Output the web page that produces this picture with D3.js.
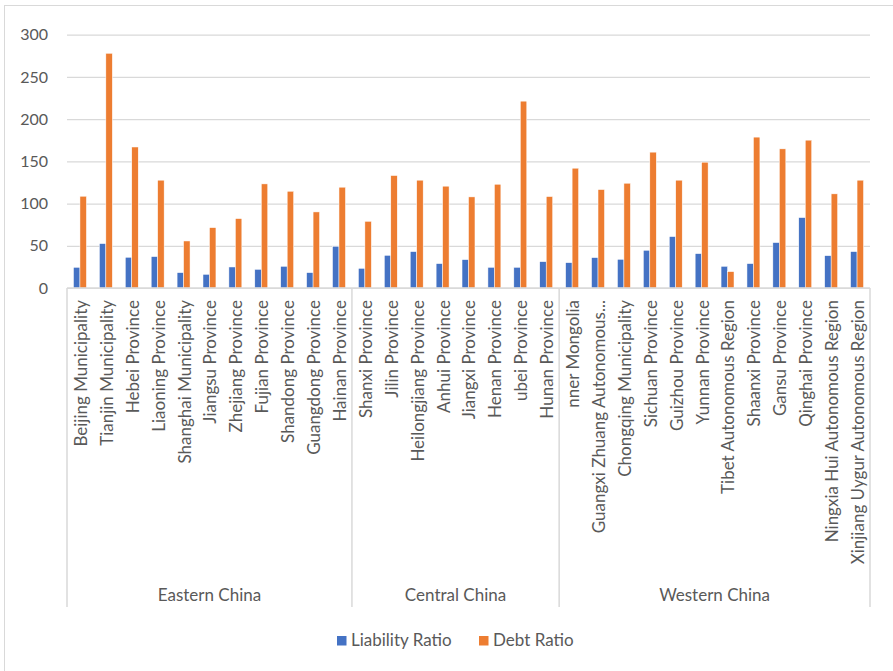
<!DOCTYPE html>
<html>
<head>
<meta charset="utf-8">
<script src="https://cdn.jsdelivr.net/npm/d3@7"></script>
<style>
  html, body { margin: 0; padding: 0; background: #fff; }
  svg { display: block; font-family: Lato, "Open Sans", sans-serif; }
</style>
</head>
<body>
<svg id="chart" width="893" height="671"></svg>
<script>
// Provinces, as labelled on the axis
const provinces = [
  "Beijing Municipality", "Tianjin Municipality", "Hebei Province", "Liaoning Province",
  "Shanghai Municipality", "Jiangsu Province", "Zhejiang Province", "Fujian Province",
  "Shandong Province", "Guangdong Province", "Hainan Province",
  "Shanxi Province", "Jilin Province", "Heilongjiang Province", "Anhui Province",
  "Jiangxi Province", "Henan Province", "ubei Province", "Hunan Province",
  "nner Mongolia", "Guangxi Zhuang Autonomous...", "Chongqing Municipality", "Sichuan Province",
  "Guizhou Province", "Yunnan Province", "Tibet Autonomous Region", "Shaanxi Province",
  "Gansu Province", "Qinghai Province", "Ningxia Hui Autonomous Region", "Xinjiang Uygur Autonomous Region"
];
// Region of each province
const regions = [
  "Eastern China","Eastern China","Eastern China","Eastern China","Eastern China","Eastern China",
  "Eastern China","Eastern China","Eastern China","Eastern China","Eastern China",
  "Central China","Central China","Central China","Central China","Central China","Central China",
  "Central China","Central China",
  "Western China","Western China","Western China","Western China","Western China","Western China",
  "Western China","Western China","Western China","Western China","Western China","Western China"
];
const seriesNames = ["Liability Ratio", "Debt Ratio"];
const liabilityRatio = [24.5, 52.6, 36.4, 37.2, 18.2, 16.2, 24.9, 22.1, 25.7, 18.2, 49.4,
  23.3, 38.7, 43.1, 28.9, 33.6, 24.5, 24.5, 31.2,
  30.0, 36.0, 34.0, 44.7, 60.9, 40.7, 25.7, 28.9, 53.8, 83.4, 38.3, 43.1];
const debtRatio = [108.7, 278.0, 167.0, 127.7, 55.7, 71.5, 82.2, 123.3, 114.6, 90.1, 119.4,
  79.0, 133.2, 127.7, 120.6, 107.9, 122.9, 221.3, 108.3,
  141.9, 116.6, 124.1, 160.9, 127.7, 149.0, 19.4, 178.7, 164.8, 175.1, 111.5, 127.7];
const yTicks = [0, 50, 100, 150, 200, 250, 300];
const colors = ["#4472C4", "#ED7D31"];

const svg = d3.select("#chart");
const textColor = "#595959";
const lineColor = "#d9d9d9";
const labelSize = "17px";

// Outer chart frame
svg.append("rect").attr("x", 4.5).attr("y", 5.5).attr("width", 900).attr("height", 700)
  .attr("fill", "none").attr("stroke", lineColor).attr("stroke-width", 1);

const plot = { left: 67, right: 870, top: 34.7, bottom: 288 };

const x = d3.scaleBand().domain(provinces).range([plot.left, plot.right]).paddingInner(0).paddingOuter(0);
const y = d3.scaleLinear().domain([0, 300]).range([plot.bottom, plot.top]);
const bw = x.bandwidth();
const xs = d3.scaleBand().domain(seriesNames).range([bw * 0.25, bw * 0.75]).padding(0);

// Gridlines and y tick labels
const yAxis = d3.axisLeft(y).tickValues(yTicks).tickSize(-(plot.right - plot.left)).tickPadding(19);
const ya = svg.append("g").attr("transform", `translate(${plot.left},0)`).call(yAxis);
ya.select(".domain").remove();
ya.selectAll(".tick line").attr("stroke", lineColor).attr("stroke-width", 1.2);
ya.selectAll(".tick text").attr("fill", textColor).style("font-size", "16px")
  .style("font-family", "Lato, sans-serif");

// Bars
const rows = provinces.map((p, i) => ({ p, vals: [liabilityRatio[i], debtRatio[i]] }));
const g = svg.append("g");
rows.forEach(r => {
  g.selectAll(null).data(r.vals.map((v, k) => ({ v, k }))).enter().append("rect")
    .attr("x", d => x(r.p) + xs(seriesNames[d.k]))
    .attr("width", xs.bandwidth())
    .attr("y", d => y(d.v))
    .attr("height", d => y(0) - y(d.v))
    .attr("fill", d => colors[d.k])
    .attr("stroke", "#fff").attr("stroke-width", 0.5);
});

// Category axis line
svg.append("line").attr("x1", plot.left).attr("x2", plot.right)
  .attr("y1", plot.bottom).attr("y2", plot.bottom)
  .attr("stroke", lineColor).attr("stroke-width", 1.5);

// Province labels (rotated)
svg.append("g").selectAll("text").data(provinces).enter().append("text")
  .attr("transform", d => `translate(${x(d) + bw / 2 + 1},300) rotate(-90)`)
  .attr("text-anchor", "end").attr("dy", "0.35em")
  .attr("fill", textColor).style("font-size", labelSize)
  .text(d => d);

// Region groups: separators and labels
const groupNames = Array.from(new Set(regions));
const sepBottom = 607;
const bounds = [plot.left];
groupNames.forEach(gn => {
  const idx = regions.lastIndexOf(gn);
  bounds.push(x(provinces[idx]) + bw);
});
bounds.forEach(b => {
  svg.append("line").attr("x1", b).attr("x2", b).attr("y1", plot.bottom).attr("y2", sepBottom)
    .attr("stroke", lineColor).attr("stroke-width", 1.5);
});
groupNames.forEach((gn, i) => {
  svg.append("text").attr("x", (bounds[i] + bounds[i + 1]) / 2).attr("y", 595)
    .attr("text-anchor", "middle").attr("dy", "0.35em")
    .attr("fill", textColor).style("font-size", labelSize).text(gn);
});

// Legend
const legend = svg.append("g");
const legendX = [337, 479];
seriesNames.forEach((s, i) => {
  legend.append("rect").attr("x", legendX[i]).attr("y", 636).attr("width", 9.5).attr("height", 9.5)
    .attr("fill", colors[i]);
  legend.append("text").attr("x", legendX[i] + 14).attr("y", 640.5).attr("dy", "0.35em")
    .attr("fill", textColor).style("font-size", labelSize).text(s);
});
</script>
</body>
</html>
